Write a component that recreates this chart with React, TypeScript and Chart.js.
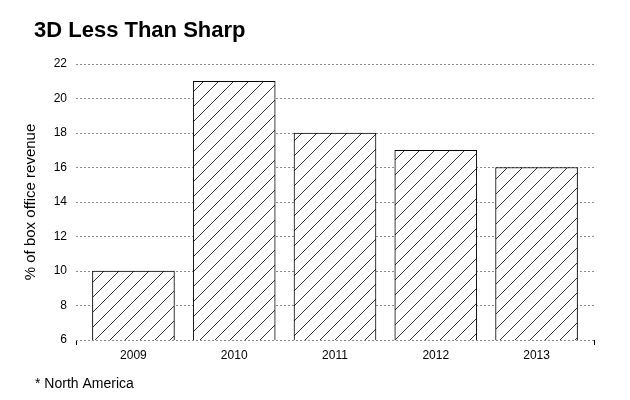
import React, { useEffect, useRef } from "react";
import { Chart, registerables } from "chart.js";

Chart.register(...registerables);

const title = "3D Less Than Sharp";
const footnote = "* North America";
const yAxisTitle = "% of box office revenue";
const categories = ["2009", "2010", "2011", "2012", "2013"];
const values = [10, 21, 18, 17, 16];
const yMin = 6;
const yMax = 22;
const yStep = 2;

const FONT = "'Liberation Sans', Arial, Helvetica, sans-serif";

function makeHatch(): CanvasPattern | string {
  const s = 15;
  const c = document.createElement("canvas");
  c.width = s;
  c.height = s;
  const g = c.getContext("2d");
  if (!g) return "#fff";
  g.fillStyle = "#fff";
  g.fillRect(0, 0, s, s);
  g.strokeStyle = "#000";
  g.lineWidth = 0.8;
  g.beginPath();
  g.moveTo(-1, s + 1);
  g.lineTo(s + 1, -1);
  g.moveTo(-2, 1);
  g.lineTo(1, -2);
  g.moveTo(s - 1, s + 2);
  g.lineTo(s + 2, s - 1);
  g.stroke();
  const p = g.createPattern(c, "repeat");
  return p || "#fff";
}

const textPlugin = {
  id: "texts",
  afterDraw(chart: any) {
    const ctx = chart.ctx;
    ctx.save();
    ctx.fillStyle = "#000";
    ctx.textAlign = "left";
    ctx.textBaseline = "alphabetic";
    ctx.font = `bold 22px ${FONT}`;
    ctx.fillText(title, 34, 37);
    ctx.font = `14px ${FONT}`;
    ctx.fillText(footnote, 35, 388);
    ctx.restore();
  },
};

export default function App() {
  const ref = useRef<HTMLCanvasElement | null>(null);
  useEffect(() => {
    if (!ref.current) return;
    const n = categories.length;
    const chart = new Chart(ref.current, {
      type: "bar",
      data: {
        datasets: [
          {
            data: values.map((v, i) => ({ x: i, y: v })),
            backgroundColor: makeHatch() as any,
            borderColor: "#000",
            borderWidth: 1,
            barThickness: 82,
          },
        ],
      },
      options: {
        animation: false,
        responsive: false,
        events: [],
        layout: { padding: { left: 0, right: 36, top: 64, bottom: 40 } },
        plugins: { legend: { display: false }, tooltip: { enabled: false }, title: { display: false } },
        scales: {
          x: {
            type: "linear",
            offset: false,
            min: -0.57,
            max: n - 1 + 0.57,
            afterBuildTicks: (s: any) => {
              s.ticks = [{ value: s.min }, ...categories.map((_, i) => ({ value: i })), { value: s.max }];
            },
            afterFit: (s: any) => {
              s.height = 20;
            },
            border: { display: false },
            grid: {
              offset: false,
              drawOnChartArea: false,
              drawTicks: true,
              tickLength: 5,
              lineWidth: 1,
              color: (c: any) =>
                c.tick && (c.tick.value === c.scale.min || c.tick.value === c.scale.max) ? "#000" : "rgba(0,0,0,0)",
            },
            ticks: {
              autoSkip: false,
              maxRotation: 0,
              padding: 3,
              color: "#000",
              font: { family: FONT, size: 12 },
              callback: (v: any) => (Number.isInteger(v) && categories[v] !== undefined ? categories[v] : ""),
            },
          },
          y: {
            min: yMin,
            max: yMax,
            afterFit: (s: any) => {
              s.width = 76;
            },
            border: { display: false, dash: [2, 2] },
            grid: {
              color: "#8a8a8a",
              lineWidth: 1,
              drawTicks: false,
            },
            ticks: {
              stepSize: yStep,
              padding: 9,
              color: "#000",
              font: { family: FONT, size: 12 },
            },
            title: {
              display: true,
              text: yAxisTitle,
              color: "#000",
              font: { family: FONT, size: 15 },
              padding: { top: 22, bottom: 0 },
            },
          },
        },
      },
      plugins: [textPlugin],
    });
    return () => chart.destroy();
  }, []);
  return (
    <div style={{ position: "absolute", left: 0, top: 0, width: 630, height: 400, background: "#fff" }}>
      <canvas ref={ref} width={630} height={400} style={{ display: "block" }} />
    </div>
  );
}
